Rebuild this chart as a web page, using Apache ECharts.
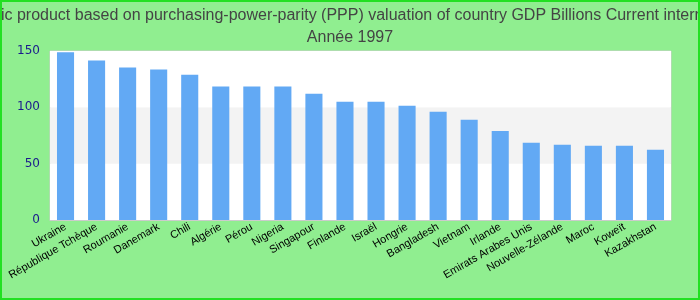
<!DOCTYPE html>
<html><head><meta charset="utf-8">
<script src="https://cdn.jsdelivr.net/npm/echarts@6/dist/echarts.min.js"></script>
<style>html,body{margin:0;padding:0;}#c{width:700px;height:300px;box-sizing:border-box;border:2px solid #22e022;background:#90ee90;}</style>
</head><body><div id="c"></div>
<script>
const categories = ["Ukraine","République Tchèque","Roumanie","Danemark","Chili","Algérie","Pérou","Nigeria","Singapour","Finlande","Israël","Hongrie","Bangladesh","Vietnam","Irlande","Emirats Arabes Unis","Nouvelle-Zélande","Maroc","Koweït","Kazakhstan"];
const values = [149,141.5,135.3,133.5,129,118.4,118.4,118.4,112,105,105,101.5,96,89,79,68.5,66.8,65.9,65.9,62.3];
const yTicks = {min:0, max:150, interval:50};
const titleText = "Gross domestic product based on purchasing-power-parity (PPP) valuation of country GDP Billions Current international dollar \nAnnée 1997";

const chart = echarts.init(document.getElementById('c'));
chart.setOption({
  animation:false,
  title:{text:titleText, left:'center', top:-2,
    textStyle:{fontFamily:'Liberation Sans, Arial', fontSize:16, fontWeight:'normal', color:'#444', lineHeight:22}},
  grid:{left:48, right:27, top:49, bottom:78, show:true, backgroundColor:'#fff', borderColor:'#ccc', borderWidth:1},
  xAxis:{type:'category', data:categories,
    axisLine:{lineStyle:{color:'#ccc'}}, axisTick:{show:false},
    axisLabel:{interval:0, rotate:30, color:'#000', fontFamily:'Liberation Sans, Arial', fontSize:11, margin:6}},
  yAxis:{type:'value', min:yTicks.min, max:yTicks.max, interval:yTicks.interval,
    axisLine:{show:false}, axisTick:{show:false}, splitLine:{show:false},
    splitArea:{show:true, areaStyle:{color:['#ffffff','#f3f3f3']}},
    axisLabel:{color:'#1a1a8c', fontFamily:'DejaVu Sans', fontSize:12, margin:10}},
  series:[{type:'bar', data:values, barWidth:'55%', itemStyle:{color:'#62a9f4'}}]
});
</script></body></html>
